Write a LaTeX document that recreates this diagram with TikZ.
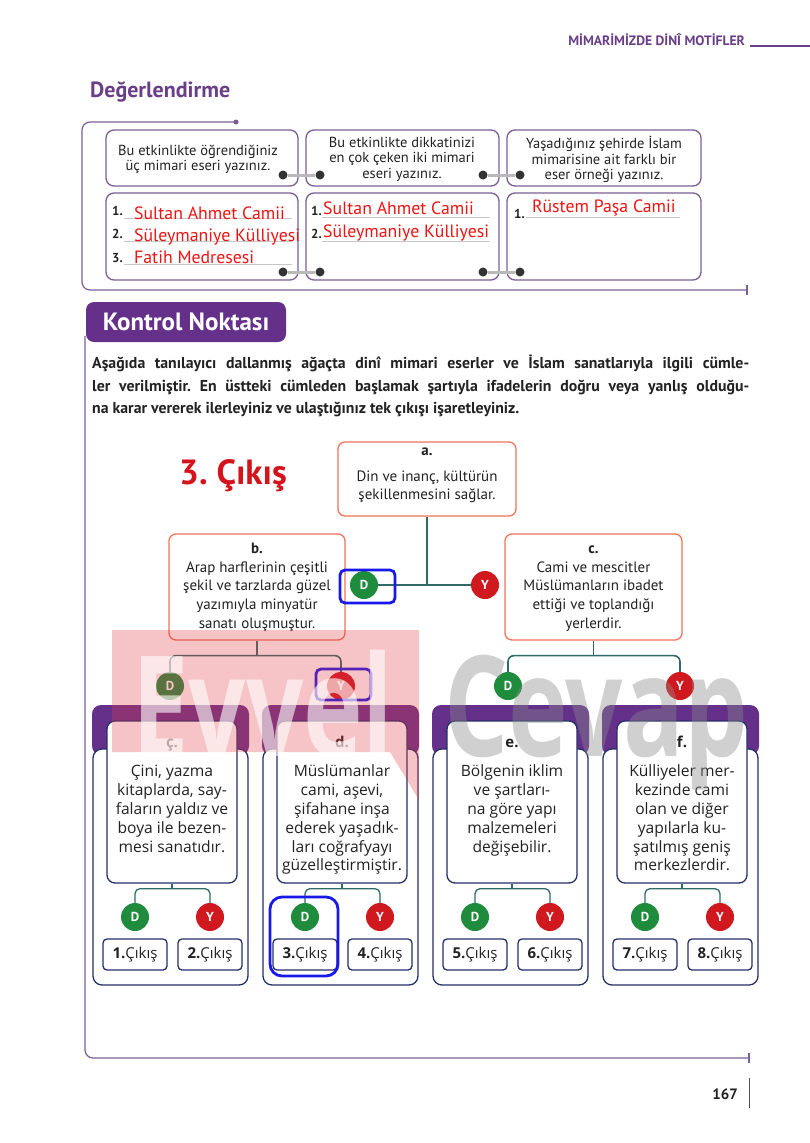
\documentclass[tikz,border=0pt]{standalone}
\usepackage{graphicx}
\usepackage{fontspec}
\setmainfont{PT Sans}
\newfontfamily\osans{Open Sans}
\usetikzlibrary{calc}
\definecolor{hdrpurple}{HTML}{6A3F88}
\definecolor{framec}{HTML}{7B5E98}
\definecolor{bandc}{HTML}{64308A}
\definecolor{navyc}{HTML}{252F68}
\definecolor{tealc}{HTML}{2F6B68}
\definecolor{orangec}{HTML}{F2735A}
\definecolor{greenc}{HTML}{1E8B3D}
\definecolor{redc}{HTML}{D0191F}
\definecolor{redtxt}{HTML}{EE1414}
\definecolor{bigred}{HTML}{D4141C}
\definecolor{bluec}{HTML}{1818E8}
\definecolor{textc}{HTML}{222222}
\definecolor{pinkc}{HTML}{E23A45}
\definecolor{wmgray}{HTML}{8A8A8A}
\frenchspacing
\begin{document}
\begin{tikzpicture}[x=1pt,y=-1pt,
 dbox/.style={draw=framec,line width=1.3pt,rounded corners=8pt,fill=white,inner sep=0pt},
 dtext/.style={align=center,inner sep=0pt,text=textc,font=\fontsize{14.5}{15.7}\selectfont},
 num/.style={inner sep=0pt,anchor=base west,text=textc,font=\bfseries\fontsize{13}{13}\selectfont},
 ans/.style={inner sep=0pt,anchor=base west,text=redtxt,font=\fontsize{17.8}{17.8}\selectfont},
 uline/.style={draw=gray!45,line width=0.6pt},
 ring/.style={circle,fill=black!80,minimum size=9pt,inner sep=0pt},
 bar/.style={draw=gray!55,line width=3pt},
 frame/.style={draw=framec,line width=1.2pt},
 tbox/.style={draw=orangec,line width=1.3pt,rounded corners=7pt,fill=white,inner sep=0pt},
 ttext/.style={align=center,inner sep=0pt,text=textc,font=\fontsize{15}{18.75}\selectfont},
 dnode/.style={circle,fill=greenc,text=white,font=\bfseries\fontsize{13}{13}\selectfont,minimum size=28pt,inner sep=0pt},
 ynode/.style={dnode,fill=redc},
 link/.style={draw=tealc,line width=1.6pt},
 slink/.style={draw=tealc,line width=1.3pt},
 hl/.style={draw=bluec,line width=2.8pt,rounded corners=5pt,inner sep=0pt},
 band/.style={fill=bandc,rounded corners=9pt,inner sep=0pt},
 outer/.style={draw=navyc,line width=1.3pt,fill=white,rounded corners=9pt,inner sep=0pt},
 card/.style={draw=navyc,line width=1.3pt,fill=white,rounded corners=8pt,inner sep=0pt},
 ctext/.style={align=center,inner sep=0pt,text=textc,font=\osans\fontsize{15.6}{18.9}\selectfont},
 clabel/.style={inner sep=0pt,anchor=base,text=textc,font=\osans\bfseries\fontsize{15}{15}\selectfont},
 exitb/.style={draw=navyc,line width=1.3pt,rounded corners=4pt,fill=white,minimum width=64pt,minimum height=31pt,inner sep=0pt,text=textc,font=\osans\fontsize{15}{15}\selectfont},
 para/.style={anchor=base west,inner sep=0pt,text=textc,font=\bfseries\fontsize{15.8}{15.8}\selectfont},
]
\useasboundingbox (0,0) rectangle (810,1143);
\fill[white] (0,0) rectangle (810,1143);

% header
\node[anchor=base east,inner sep=0pt,text=hdrpurple,font=\bfseries\fontsize{13.6}{13.6}\selectfont] (hdr) at (745,45) {MİMARİMİZDE DİNÎ MOTİFLER};
\draw[hdrpurple,line width=1.2pt] (750,46) -- (810,46);

% Degerlendirme
\node[anchor=base west,inner sep=0pt,text=hdrpurple,font=\bfseries\fontsize{22}{22}\selectfont] (deg) at (90,97) {Değerlendirme};
\draw[frame,rounded corners=8pt] (236,122) -- (82,122) -- (82,290) -- (747,290);
\node[circle,fill=framec,minimum size=5pt,inner sep=0pt] (fdot) at (236,122) {};
\draw[frame] (747,285) -- (747,295);

\node[dbox,minimum width=192pt,minimum height=56pt] (q1) at (202,158) {};
\node[dbox,minimum width=193pt,minimum height=56pt] (q2) at (402.5,158) {};
\node[dbox,minimum width=194pt,minimum height=56pt] (q3) at (604,158) {};
\node[dbox,minimum width=192pt,minimum height=87pt] (w1) at (202,236.5) {};
\node[dbox,minimum width=193pt,minimum height=87pt] (w2) at (402.5,236.5) {};
\node[dbox,minimum width=194pt,minimum height=87pt] (w3) at (604,236.5) {};

\node[dtext,anchor=north] (q1t) at (198,144) {\strut Bu etkinlikte öğrendiğiniz\\üç mimari eseri yazınız.};
\node[dtext,anchor=north] (q2t) at (402,136) {\strut Bu etkinlikte dikkatinizi\\en çok çeken iki mimari\\eseri yazınız.};
\node[dtext,anchor=north] (q3t) at (604,136) {\strut Yaşadığınız şehirde İslam\\mimarisine ait farklı bir\\eser örneği yazınız.};

\draw[uline] (124,218) -- (292,218);
\draw[uline] (124,241) -- (292,241);
\draw[uline] (124,264) -- (292,264);
\draw[uline] (322,217) -- (490,217);
\draw[uline] (322,241) -- (490,241);
\draw[uline] (526,217) -- (680,217);

\node[num] (n11) at (112,215) {1.};
\node[num] (n12) at (112,238) {2.};
\node[num] (n13) at (112,262) {3.};
\node[ans] (a11) at (134,219) {Sultan Ahmet Camii};
\node[ans] (a12) at (134,241) {Süleymaniye Külliyesi};
\node[ans] (a13) at (134,263) {Fatih Medresesi};
\node[num] (n21) at (311,215) {1.};
\node[num] (n22) at (311,238) {2.};
\node[ans] (a21) at (323,214) {Sultan Ahmet Camii};
\node[ans] (a22) at (323,237) {Süleymaniye Külliyesi};
\node[num] (n31) at (514,218) {1.};
\node[ans] (a31) at (532,212) {Rüstem Paşa Camii};

\node[ring] (k1a) at (283,175) {};
\node[ring] (k1b) at (320,175) {};
\node[ring] (k2a) at (483,175) {};
\node[ring] (k2b) at (520,175) {};
\node[ring] (k3a) at (283,272) {};
\node[ring] (k3b) at (320,272) {};
\node[ring] (k4a) at (483,272) {};
\node[ring] (k4b) at (520,272) {};
\draw[bar] (k1a) -- (k1b);
\draw[bar] (k2a) -- (k2b);
\draw[bar] (k3a) -- (k3b);
\draw[bar] (k4a) -- (k4b);

% Kontrol Noktasi
\draw[frame,rounded corners=8pt] (85,336) -- (85,1058) -- (749,1058);
\draw[frame] (749,1053) -- (749,1063);
\node[fill=bandc,rounded corners=8pt,minimum width=200pt,minimum height=40pt,inner sep=0pt,text=white,font=\bfseries\fontsize{25}{25}\selectfont] (kn) at (186,322) {Kontrol Noktası};

\node[para] (p1) at (92,368) {\makebox[657pt][s]{Aşağıda tanılayıcı dallanmış ağaçta dinî mimari eserler ve İslam sanatlarıyla ilgili cümle-}};
\node[para] (p2) at (92,391) {\makebox[657pt][s]{ler verilmiştir. En üstteki cümleden başlamak şartıyla ifadelerin doğru veya yanlış olduğu-}};
\node[para] (p3) at (92,413) {na karar vererek ilerleyiniz ve ulaştığınız tek çıkışı işaretleyiniz.};

\node[anchor=base west,inner sep=0pt,text=bigred,font=\bfseries\fontsize{35}{35}\selectfont] (exit3) at (179,484) {3. Çıkış};

% tree
\node[tbox,minimum width=178pt,minimum height=74pt] (a) at (427,479) {};
\node[ttext,font=\fontsize{15}{17.5}\selectfont,anchor=north] (at) at (427,443.5) {\strut\textbf{a.}\\[8.5pt]Din ve inanç, kültürün\\şekillenmesini sağlar.};
\node[tbox,minimum width=176pt,minimum height=106pt] (b) at (257,587) {};
\node[ttext,anchor=north] (bt) at (257,540) {\strut\textbf{b.}\\Arap harflerinin çeşitli\\şekil ve tarzlarda güzel\\yazımıyla minyatür\\sanatı oluşmuştur.};
\node[tbox,minimum width=177pt,minimum height=106pt] (c) at (593.5,587) {};
\node[ttext,anchor=north] (ct) at (593.5,540) {\strut\textbf{c.}\\Cami ve mescitler\\Müslümanların ibadet\\ettiği ve toplandığı\\yerlerdir.};

\node[dnode] (da) at (364,585) {D};
\node[ynode] (ya) at (485,585) {Y};
\draw[link] (a.south) -- (a.south |- da.east);
\draw[link] (da.east) -- (ya.west);

\node[dnode] (db) at (170,686) {D};
\node[ynode] (yb) at (341,686) {Y};
\draw[link] (b.south) -- ++(0,15) coordinate (jb);
\draw[link,rounded corners=6pt] (db.north) |- (jb) -| (yb.north);

\node[dnode] (dc) at (508,686) {D};
\node[ynode] (yc) at (680,686) {Y};
\draw[link] (c.south) -- ++(0,15) coordinate (jc);
\draw[link,rounded corners=6pt] (dc.north) |- (jc) -| (yc.north);

\foreach \i/\gx/\lab/\txt in {
 1/92/{ç.}/{Çini, yazma\\kitaplarda, say-\\faların yaldız ve\\boya ile bezen-\\mesi sanatıdır.},
 2/262/{d.}/{Müslümanlar\\cami, aşevi,\\şifahane inşa\\ederek yaşadık-\\ları coğrafyayı\\güzelleştirmiştir.},
 3/432/{e.}/{Bölgenin iklim\\ve şartları-\\na göre yapı\\malzemeleri\\değişebilir.},
 4/602/{f.}/{Külliyeler mer-\\kezinde cami\\olan ve diğer\\yapılarla ku-\\şatılmış geniş\\merkezlerdir.}}{
 \pgfmathtruncatemacro\ea{2*\i-1}
 \pgfmathtruncatemacro\eb{2*\i}
 \node[band,minimum width=157pt,minimum height=50pt] (band\i) at (\gx+78.5,730) {};
 \node[outer,minimum width=155pt,minimum height=236pt] (outer\i) at (\gx+78.5,867) {};
 \node[card,minimum width=130pt,minimum height=162pt] (card\i) at (\gx+80,802) {};
 \node[clabel] (lab\i) at (\gx+80,747) {\lab};
 \node[ctext,anchor=north] (ctx\i) at (\gx+80,763) {\strut\txt};
 \node[dnode] (cd\i) at (\gx+43,917) {D};
 \node[ynode] (cy\i) at (\gx+118,917) {Y};
 \draw[slink] (card\i.south) -- ++(0,5) coordinate (j\i);
 \draw[slink,rounded corners=5pt] (cd\i.north) |- (j\i) -| (cy\i.north);
 \node[exitb] (exa\i) at (\gx+43,954.5) {{\bfseries\ea.}Çıkış};
 \node[exitb] (exb\i) at (\gx+118,954.5) {{\bfseries\eb.}Çıkış};
}

\node[hl,minimum width=55pt,minimum height=33pt] (hl1) at (367.5,586.5) {};
\node[hl,minimum width=55pt,minimum height=31pt] (hl2) at (343.5,684.5) {};
\node[hl,rounded corners=12pt,minimum width=68pt,minimum height=79pt] (hl3) at (304,936.5) {};

% page number
\node[anchor=base east,inner sep=0pt,text=textc,font=\bfseries\fontsize{15}{15}\selectfont] (pg) at (738,1099) {167};
\draw[black!70,line width=0.8pt] (749,1078) -- (749,1108);

% watermark
\fill[pinkc,opacity=0.3] (112,630) -- (419,630) -- (419,800) -- (390,752) -- (112,752) -- cycle;
\node[anchor=base west,inner sep=0pt,text=white,text opacity=0.6,font=\osans\bfseries\fontsize{140}{140}\selectfont] (wm1) at (132,756) {\scalebox{0.72}[1]{Evvel}};
\node[anchor=base west,inner sep=0pt,text=wmgray,text opacity=0.4,font=\osans\bfseries\fontsize{140}{140}\selectfont] (wm2) at (444,756) {\scalebox{0.72}[1]{Cevap}};
\end{tikzpicture}
\end{document}
